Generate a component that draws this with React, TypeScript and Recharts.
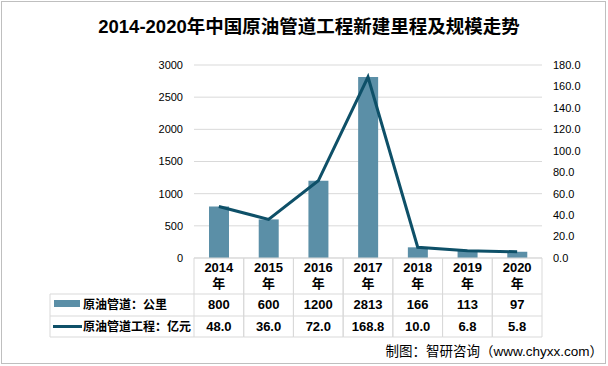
import React from "react";
import { ComposedChart, Bar, Line, XAxis, YAxis, CartesianGrid } from "recharts";

const years = ["2014", "2015", "2016", "2017", "2018", "2019", "2020"];
const mileage = [800, 600, 1200, 2813, 166, 113, 97];
const scale = [48.0, 36.0, 72.0, 168.8, 10.0, 6.8, 5.8];
const leftTicks = [0, 500, 1000, 1500, 2000, 2500, 3000];
const rightTicks = [0, 20, 40, 60, 80, 100, 120, 140, 160, 180];

const barName = "原油管道：公里";
const lineName = "原油管道工程：亿元";

const BAR_COLOR = "#5b8fa7";
const LINE_COLOR = "#0e5068";
const BORDER = "#d9d9d9";
const FONT = "'Liberation Sans', 'Noto Sans CJK SC', sans-serif";

const data = years.map((y, i) => ({ year: y, mileage: mileage[i], scale: scale[i] }));

const COL_W = 348 / 7;
const LEGEND_W = 144;

function TableTick(props: any) {
  const { x, y, payload } = props;
  const i = payload.index;
  const left = x - COL_W / 2;
  const right = x + COL_W / 2;
  const r1 = y + 36;
  const r2 = y + 58;
  const r3 = y + 79;
  const txt = { fontFamily: FONT, fontWeight: 700, fill: "#000", textAnchor: "middle" as const };
  return (
    <g>
      <line x1={left} y1={y} x2={left} y2={r3} stroke={BORDER} />
      <line x1={right} y1={y} x2={right} y2={r3} stroke={BORDER} />
      <line x1={left} y1={r1} x2={right} y2={r1} stroke={BORDER} />
      <line x1={left} y1={r2} x2={right} y2={r2} stroke={BORDER} />
      <line x1={left} y1={r3} x2={right} y2={r3} stroke={BORDER} />
      <text x={x} y={y + 14} fontSize={13} {...txt}>{payload.value}</text>
      <text x={x} y={y + 30} fontSize={13} {...txt}>年</text>
      <text x={x} y={r1 + 15} fontSize={13} {...txt}>{mileage[i]}</text>
      <text x={x} y={r2 + 15} fontSize={13} {...txt}>{scale[i].toFixed(1)}</text>
      {i === 0 && (
        <g>
          <line x1={left - LEGEND_W} y1={r1} x2={left} y2={r1} stroke={BORDER} />
          <line x1={left - LEGEND_W} y1={r2} x2={left} y2={r2} stroke={BORDER} />
          <line x1={left - LEGEND_W} y1={r3} x2={left} y2={r3} stroke={BORDER} />
          <line x1={left - LEGEND_W} y1={r1} x2={left - LEGEND_W} y2={r3} stroke={BORDER} />
          <rect x={left - LEGEND_W + 4} y={r1 + 6} width={26} height={7} fill={BAR_COLOR} />
          <text x={left - LEGEND_W + 33} y={r1 + 15} fontSize={12} fontFamily={FONT} fontWeight={700}>{barName}</text>
          <line x1={left - LEGEND_W + 3} y1={r2 + 10.5} x2={left - LEGEND_W + 32} y2={r2 + 10.5} stroke={LINE_COLOR} strokeWidth={3} />
          <text x={left - LEGEND_W + 33} y={r2 + 15} fontSize={12} fontFamily={FONT} fontWeight={700}>{lineName}</text>
        </g>
      )}
    </g>
  );
}

export default function App() {
  return (
    <div
      style={{
        position: "absolute",
        left: 0,
        top: 0,
        width: 608,
        height: 366,
        background: "#fff",
        fontFamily: FONT,
      }}
    >
      <div
        style={{
          position: "absolute",
          left: 1,
          top: 1,
          width: 605,
          height: 363,
          border: "1px solid #bfbfbf",
          boxSizing: "border-box",
        }}
      />
      <div
        style={{
          position: "absolute",
          left: 0,
          top: 15,
          width: 618,
          textAlign: "center",
          fontSize: 18.5,
          fontWeight: 700,
          lineHeight: "24px",
          fontFamily: FONT,
        }}
      >
        2014-2020年中国原油管道工程新建里程及规模走势
      </div>
      <ComposedChart
        width={608}
        height={366}
        data={data}
        margin={{ top: 65, right: 0, bottom: 0, left: 0 }}
        barCategoryGap={0}
      >
        <CartesianGrid yAxisId="left" vertical={false} stroke={BORDER} />
        <XAxis
          dataKey="year"
          height={108}
          interval={0}
          tickLine={false}
          tickSize={0}
          tickMargin={0}
          axisLine={{ stroke: BORDER }}
          tick={<TableTick />}
        />
        <YAxis
          yAxisId="left"
          width={194}
          domain={[0, 3000]}
          ticks={leftTicks}
          axisLine={false}
          tickLine={false}
          tickSize={0}
          tickMargin={11}
          tick={{ fontSize: 11, fill: "#000", fontFamily: FONT }}
        />
        <YAxis
          yAxisId="right"
          orientation="right"
          width={66}
          domain={[0, 180]}
          ticks={rightTicks}
          axisLine={false}
          tickLine={false}
          tickSize={0}
          tickMargin={11}
          tickFormatter={(v: number) => v.toFixed(1)}
          tick={{ fontSize: 11, fill: "#000", fontFamily: FONT, textAnchor: "start" }}
        />
        <Bar yAxisId="left" dataKey="mileage" name={barName} fill={BAR_COLOR} barSize={20} isAnimationActive={false} />
        <Line
          yAxisId="right"
          type="linear"
          dataKey="scale"
          name={lineName}
          stroke={LINE_COLOR}
          strokeWidth={3}
          dot={false}
          isAnimationActive={false}
        />
      </ComposedChart>
      <div
        style={{
          position: "absolute",
          right: 5,
          top: 342,
          fontSize: 13.5,
          lineHeight: "20px",
          fontFamily: FONT,
          color: "#000",
        }}
      >
        制图：智研咨询（www.chyxx.com）
      </div>
    </div>
  );
}
